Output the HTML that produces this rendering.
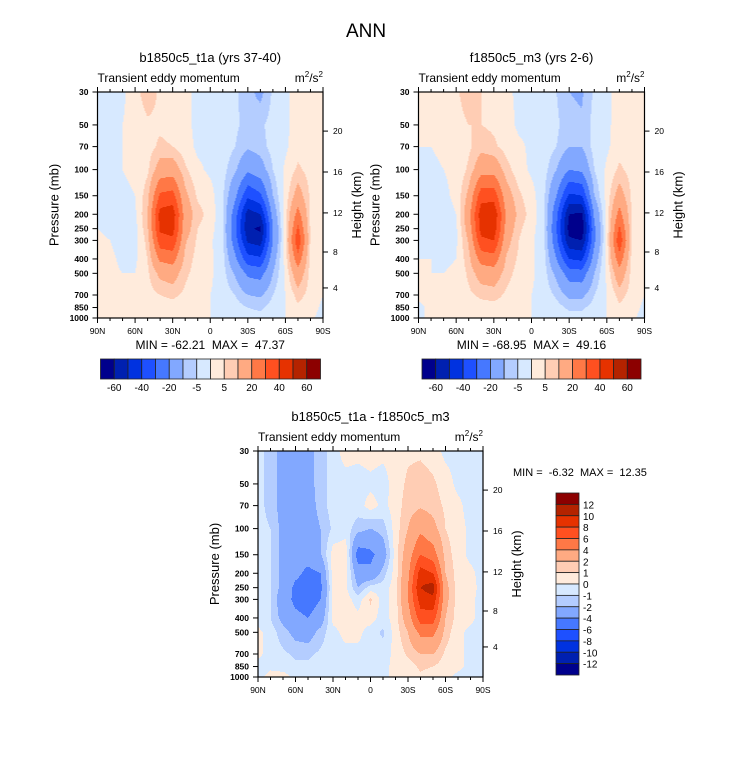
<!DOCTYPE html>
<html><head><meta charset="utf-8">
<style>
html,body{margin:0;padding:0;background:#fff;}
svg{display:block;font-family:"Liberation Sans",sans-serif;}
.pre{white-space:pre;}
</style></head>
<body>
<svg id="root" width="733" height="772" viewBox="0 0 733 772">
<rect width="733" height="772" fill="#fff"/>
<text x="366" y="37" font-size="19" text-anchor="middle">ANN</text>
</svg>
<script>
const levelsP = [30,50,70,100,150,200,250,300,400,500,700,850,1000];
const latitudes = [90,80,70,60,50,40,30,20,10,0,-10,-20,-30,-40,-50,-60,-70,-80,-90];
const colors = ["#00008c","#0020b0","#0032e0","#1e50ff","#4678ff","#82a8ff","#b4cdff","#d7e9ff","#ffebdc","#ffcdb4","#ffaa82","#ff7846","#ff5020","#e63200","#b42300","#8c0000"];
const contourLevelsA = [-60,-50,-40,-30,-20,-10,-5,0,5,10,20,30,40,50,60];
const contourLevelsD = [-12,-10,-8,-6,-4,-2,-1,0,1,2,4,6,8,10,12];
const barLabelsA = ["-60","-40","-20","-5","5","20","40","60"];
const barLabelsD = ["12","10","8","6","4","2","1","0","-1","-2","-4","-6","-8","-10","-12"];
const pTicks = [30,50,70,100,150,200,250,300,400,500,700,850,1000];
const latTicks = ["90N","60N","30N","0","30S","60S","90S"];
const kmTicks = [4,8,12,16,20];
const kmTickFrac = [0.133,0.292,0.465,0.646,0.827];

const fieldA = [
[-1,-1,-1, 3, 8, 4, 2, 1,-1,-1,-2,-4,-8,-12,-4,-1, 2, 2, 1],
[-1,-1, 0, 2, 4, 4, 3, 1,-1,-1,-2,-4,-7,-6,-3,-1, 2, 2, 1],
[-1,-1, 0, 1, 3, 6, 5, 2,-1,-1,-2,-5,-9,-7,-3,-1, 3, 2, 1],
[-1,-1, 0, 1, 4,14,15, 6, 1,-1,-3,-9,-18,-14,-5, 1, 6, 3, 1],
[-1,-1,-1, 0, 8,32,34,12, 4, 2,-4,-18,-38,-32,-10, 2,14, 4, 1],
[-1,-1,-2,-1,10,44,46,15, 7, 3,-4,-26,-55,-50,-16, 3,24, 4, 1],
[ 0,-1,-2,-2, 9,42,44,14, 5, 2,-4,-28,-58,-62,-20, 3,32, 4, 1],
[ 1, 0,-2,-2, 7,36,38,11, 4, 1,-4,-26,-52,-55,-20, 3,38, 4, 1],
[ 2, 1,-1,-1, 5,22,24, 8, 3, 1,-3,-18,-36,-38,-14, 2,26, 3, 1],
[ 2, 1, 0, 0, 4,12,14, 6, 3, 1,-3,-11,-22,-24,-10, 1,16, 3, 1],
[ 2, 1, 1, 1, 3, 5, 6, 4, 2, 0,-2,-5,-10,-11,-5, 0, 7, 3, 0],
[ 1, 1, 1, 1, 2, 3, 3, 3, 3, 0,-2,-3,-5,-6,-3, 0, 4, 2,-1],
[ 1, 1, 1, 1, 1, 2, 2, 3, 3, 0,-1,-2,-3,-3,-2, 0, 2, 1,-2]];
const fieldB = [
[ 1, 1, 2, 4, 8, 5, 3, 1,-1,-1,-2,-5,-10,-11,-4,-1, 2, 2, 1],
[ 1, 1, 2, 3, 5, 5, 4, 2,-1,-1,-2,-4,-8,-9,-3,-1, 2, 2, 1],
[ 0, 0, 1, 2, 4, 8, 6, 3, 1,-1,-2,-5,-10,-10,-3,-1, 3, 2, 1],
[-1,-1, 0, 1, 6,16,16, 7, 2,-1,-3,-10,-20,-18,-5, 1, 6, 3, 1],
[-1,-1,-1, 1,12,36,36,14, 6, 2,-4,-20,-42,-40,-10, 2,14, 4, 1],
[-1,-1,-2, 0,16,46,48,18, 8, 3,-4,-28,-60,-62,-18, 2,24, 4, 1],
[-1,-1,-2,-1,14,44,46,16, 6, 2,-4,-30,-64,-68,-22, 2,32, 4, 1],
[ 0,-1,-2,-1,11,38,40,13, 5, 1,-4,-28,-58,-60,-22, 2,38, 4, 1],
[ 0, 0,-1, 0, 8,24,26, 9, 4, 1,-3,-20,-40,-42,-15, 2,26, 3, 1],
[ 0, 0, 0, 1, 6,14,15, 7, 3, 1,-3,-12,-25,-26,-10, 1,16, 3, 1],
[ 1, 1, 1, 2, 4, 6, 7, 4, 2, 0,-2,-6,-12,-12,-5, 0, 7, 3, 0],
[-1, 1, 1, 2, 3, 3, 3, 3, 3, 0,-2,-3,-6,-6,-3, 0, 4, 2,-1],
[-1, 1, 1, 1, 1, 2, 2, 3, 3, 0,-1,-2,-3,-3,-2, 0, 2, 1,-2]];
const fieldD = [
[-0.5,-1.5,-2.5,-3,-2.5,-1.5,-0.5,0.5,0.3,0.5,0.3,0.5,0.8,0.8,0.5,-0.3,-0.3,-0.5,-0.5],
[-0.5,-1.5,-2.5,-3,-2.5,-1.5,-0.5,-0.5,-0.5,-0.3,-0.5,0.5,1.2,1.5,1.2,0.5,-0.3,-0.5,-0.5],
[-0.5,-1.5,-2.5,-3,-2.8,-1.5,-0.5,-0.5,-0.5,0.5,-0.3,0.5,1.5,1.8,1.5,0.8,0.3,-0.5,-0.5],
[-0.5,-1,-2.5,-3,-3,-2,-0.8,-0.5,-1.5,-2,-1.5,0.5,2,3.5,2.5,1,0.5,-0.3,-0.5],
[-0.5,-1,-2.5,-3,-3.2,-2.2,0.5,0.8,-5,-4.5,-3,0.5,3,6,5,1.5,0.5,-0.3,-0.5],
[-0.5,-1,-2.5,-3.5,-4.5,-4,0.5,0.5,-3,-3.5,-1.5,0.5,3.5,9,8,2,0.5,0.3,-0.5],
[-0.5,-1,-2.5,-4.5,-5,-4.5,0.3,0.3,-2,-0.5,-0.5,0.5,4,10,11,2.5,0.5,0.5,-0.5],
[-0.5,-1,-3,-4.5,-5,-4,0.3,0.5,-0.5,1.2,-0.5,0.5,4,9,9.5,2.5,0.5,0.3,-0.5],
[-0.5,-1,-2.5,-3.5,-4,-3,0.3,0.5,0.3,0.5,-0.5,0.5,3,7,7,2,0.5,0.3,-0.5],
[0.3,-0.5,-1.5,-2.5,-2.8,-1.5,-0.3,0.3,0.3,-0.5,-1.2,0.5,2,4.5,4.5,1.5,0.3,-0.3,-0.5],
[0.3,-0.5,-0.8,-1.2,-1.2,-0.8,-0.5,-0.3,-0.3,-0.5,-0.5,0.3,1.2,2,2,0.8,0.3,-0.3,-0.5],
[-0.5,-0.3,-0.5,-0.8,-0.8,-0.5,-0.3,-0.3,-0.3,-0.5,-0.3,0.3,0.5,1.2,1,0.5,0.3,-0.3,-0.5],
[-0.5,0.5,0.5,-0.3,-0.5,-0.3,-0.3,-0.3,-0.3,-0.3,-0.3,0.3,0.5,0.8,0.5,0.3,-0.3,-0.5,-0.5]];

const NS="http://www.w3.org/2000/svg";
const root=document.getElementById('root');
function mk(tag,attrs,parent,text){const e=document.createElementNS(NS,tag);for(const k in attrs)e.setAttribute(k,attrs[k]);if(text!==undefined)e.textContent=text;(parent||root).appendChild(e);return e;}

function sample(field,lat,p){
  let jf=(90-lat)/10; if(jf<0)jf=0; if(jf>18)jf=18;
  let j=Math.min(17,Math.floor(jf)), fx=jf-j;
  let lp=Math.log(p), i=0;
  while(i<levelsP.length-2 && Math.log(levelsP[i+1])<lp) i++;
  let fy=(lp-Math.log(levelsP[i]))/(Math.log(levelsP[i+1])-Math.log(levelsP[i]));
  fy=Math.max(0,Math.min(1,fy));
  const a=field[i][j],b=field[i][j+1],c=field[i+1][j],d=field[i+1][j+1];
  return (a*(1-fx)+b*fx)*(1-fy)+(c*(1-fx)+d*fx)*fy;
}
function levelIndex(v,levs){let k=0;while(k<levs.length&&v>=levs[k])k++;return k;}

function panel(name,x0,y0,W,H,field,levs,title,minmax){
  const g=mk('g',{},root);
  
  
  const xOf=lat=>x0+(90-lat)/180*W;
  const latOf=x=>90-(x-x0)/W*180;
  const L0=Math.log(30),L1=Math.log(1000);
  const yOf=p=>y0+(Math.log(p)-L0)/(L1-L0)*H;
  const pOf=y=>Math.exp(L0+(y-y0)/H*(L1-L0));
  const cg=mk('g',{},g);
  
  
  const Wi=Math.ceil(W), Hi=Math.ceil(H);
  for(let yy=0;yy<Hi;yy++){
    const p=pOf(Math.min(y0+H,y0+yy+0.5));
    let start=0,cur=-1;
    for(let xx=0;xx<=Wi;xx++){
      let k=-2;
      if(xx<Wi) k=levelIndex(sample(field,latOf(Math.min(x0+W,x0+xx+0.5)),p),levs);
      if(k!==cur){
        if(cur>=0){const r=mk('rect',{x:x0+start,y:y0+yy,width:Math.min(xx,W)-start,height:Math.min(1.05,H-yy),fill:colors[cur]},cg);
          
          }
        cur=k;start=xx;
      }
    }
  }
  mk('rect',{x:x0,y:y0,width:W,height:H,fill:'none',stroke:'#000','stroke-width':1.2},g);
  const t=mk('text',{x:x0+W/2,y:y0-30,'font-size':13,'text-anchor':'middle'},g,title);
  
  const s=mk('text',{x:x0,y:y0-10,'font-size':12},g,'Transient eddy momentum');
  
  const u=mk('text',{x:x0+W,y:y0-10,'font-size':12,'text-anchor':'end'},g);
  
  u.innerHTML='m<tspan font-size="8" dy="-5">2</tspan><tspan dy="5">/s</tspan><tspan font-size="8" dy="-5">2</tspan>';
  for(let lat=90;lat>=-90;lat-=10){
    const x=xOf(lat),maj=(lat%30===0);const len=maj?5:3;
    mk('line',{x1:x,y1:y0+H,x2:x,y2:y0+H+len,stroke:'#000','stroke-width':1},g);
    mk('line',{x1:x,y1:y0,x2:x,y2:y0-len,stroke:'#000','stroke-width':1},g);
  }
  latTicks.forEach((lb,i)=>{const e=mk('text',{x:xOf(90-30*i),y:y0+H+16,'font-size':8.5,'text-anchor':'middle'},g,lb);
    });
  pTicks.forEach(p=>{const y=yOf(p);
    mk('line',{x1:x0,y1:y,x2:x0-5,y2:y,stroke:'#000','stroke-width':1},g);
    const e=mk('text',{x:x0-9,y:y+3,'font-size':8.5,'text-anchor':'end','font-weight':'bold'},g,String(p));
    });
  kmTicks.forEach((k,i)=>{const y=y0+H-kmTickFrac[i]*H;
    mk('line',{x1:x0+W,y1:y,x2:x0+W+5,y2:y,stroke:'#000','stroke-width':1},g);
    const e=mk('text',{x:x0+W+10,y:y+3,'font-size':8.5},g,String(k));
    });
  const ya=mk('text',{x:0,y:0,'font-size':13,'text-anchor':'middle',transform:`translate(${x0-39},${y0+H/2}) rotate(-90)`},g,'Pressure (mb)');
  
  const yb=mk('text',{x:0,y:0,'font-size':13,'text-anchor':'middle',transform:`translate(${x0+W+38},${y0+H/2}) rotate(-90)`},g,'Height (km)');
  
  if(minmax){const m=mk('text',{x:x0+W/2,y:y0+H+31,'font-size':12,'text-anchor':'middle','class':'pre'},g,minmax);
    }
}
function hbar(name,x0,y0,W,H){
  const g=mk('g',{},root);
  
  
  const bw=W/16;
  colors.forEach((c,i)=>{const r=mk('rect',{x:x0+i*bw,y:y0,width:bw,height:H,fill:c,stroke:'#222','stroke-width':0.8},g);
    });
  barLabelsA.forEach((lb,i)=>{const e=mk('text',{x:x0+(2*i+1)*bw,y:y0+H+12,'font-size':10,'text-anchor':'middle'},g,lb);
    });
}
panel('panel-b1850c5',97.5,92,225.5,226,fieldA,contourLevelsA,'b1850c5_t1a (yrs 37-40)','MIN = -62.21  MAX =  47.37');
panel('panel-f1850c5',418.5,92,226,226,fieldB,contourLevelsA,'f1850c5_m3 (yrs 2-6)','MIN = -68.95  MAX =  49.16');
panel('panel-difference',258,451,225,226,fieldD,contourLevelsD,'b1850c5_t1a - f1850c5_m3',null);
hbar('colorbar-top-left',100.5,359,220,20);
hbar('colorbar-top-right',422,359,219,20);
(function(){
  const g=mk('g',{},root);
  
  
  const x0=556,y0=493,W=23,H=182,bh=H/16;
  for(let i=0;i<16;i++){const r=mk('rect',{x:x0,y:y0+i*bh,width:W,height:bh,fill:colors[15-i],stroke:'#222','stroke-width':0.8},g);
    }
  barLabelsD.forEach((lb,i)=>{const e=mk('text',{x:x0+W+4,y:y0+(i+1)*bh+4,'font-size':10},g,lb);
    });
  const m=mk('text',{x:513,y:476,'font-size':11,'class':'pre'},g,'MIN =  -6.32  MAX =  12.35');
  
})();
</script>
</body></html>
